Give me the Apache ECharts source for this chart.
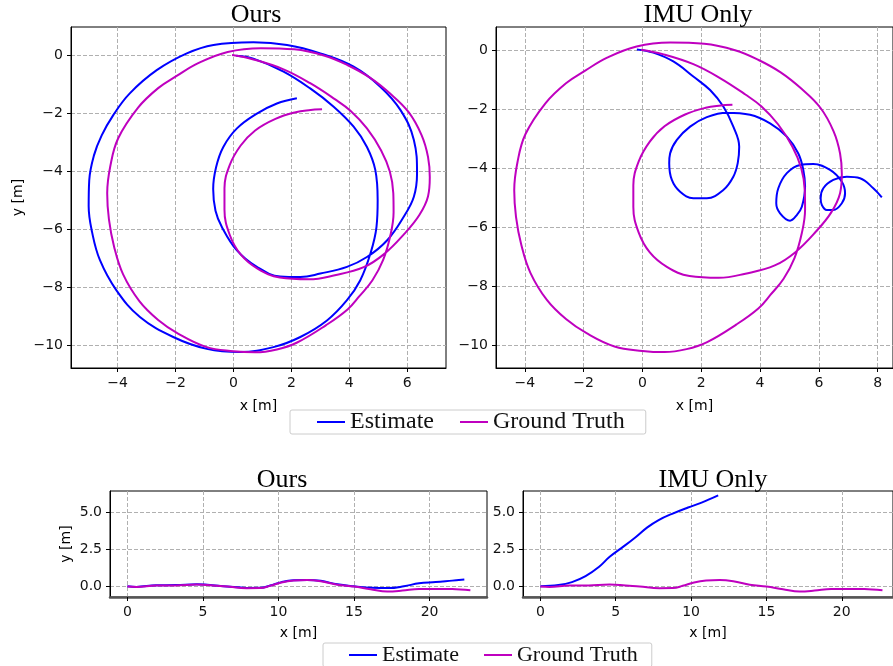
<!DOCTYPE html>
<html>
<head>
<meta charset="utf-8">
<script src="https://cdn.jsdelivr.net/npm/echarts@6/dist/echarts.min.js"></script>
<style>
  html, body { margin: 0; padding: 0; background: #fff; }
  #chart { width: 893px; height: 666px; }
</style>
</head>
<body>
<div id="chart"></div>
<script>
const seriesNames = ["Estimate", "Ground Truth"];
const panelTitles = ["Ours", "IMU Only"];

// x-y trajectory (top panels), metres
const gtPath = [
  [-0.05, 0.02], [0.69, -0.13], [1.73, -0.47], [2.65, -0.95], [3.5, -1.5], [4.04, -1.9],
  [4.61, -2.51], [5.1, -3.27], [5.4, -4.0], [5.52, -4.75], [5.53, -5.4], [5.42, -6.2],
  [5.17, -7.05], [4.8, -7.75], [4.35, -8.3], [3.95, -8.75], [3.2, -9.3], [2.2, -9.9],
  [1.5, -10.14], [0.75, -10.24], [0.0, -10.2], [-0.95, -10.05], [-1.9, -9.6],
  [-2.6, -9.12], [-3.25, -8.47], [-3.81, -7.55], [-4.12, -6.6], [-4.3, -5.65],
  [-4.36, -4.75], [-4.25, -3.8], [-3.98, -2.85], [-3.3, -1.8], [-2.6, -1.12],
  [-1.96, -0.7], [-1.2, -0.25], [-0.2, 0.13], [0.95, 0.26], [2.1, 0.22], [3.15, 0.0],
  [3.95, -0.33], [4.7, -0.75], [5.4, -1.3], [6.05, -1.95], [6.5, -2.75], [6.72, -3.5],
  [6.78, -4.2], [6.72, -4.85], [6.42, -5.5], [5.9, -6.15], [5.2, -6.85], [4.5, -7.3],
  [3.5, -7.58], [2.6, -7.72], [1.6, -7.66], [0.83, -7.35], [0.25, -6.86], [-0.13, -6.18],
  [-0.31, -5.32], [-0.31, -4.58], [-0.13, -3.78], [0.25, -3.1], [0.75, -2.58],
  [1.45, -2.18], [2.15, -1.95], [2.6, -1.88], [3.06, -1.85]
];
const oursPath = [
  [0.1, 0.0], [0.69, -0.1], [1.73, -0.55], [2.65, -1.13], [3.46, -1.76], [4.15, -2.45],
  [4.61, -3.15], [4.9, -3.95], [4.98, -4.99], [4.94, -5.91], [4.73, -6.83], [4.38, -7.75],
  [3.92, -8.44], [3.23, -9.14], [2.31, -9.71], [1.38, -10.06], [0.23, -10.23],
  [-0.92, -10.12], [-2.08, -9.71], [-3.23, -9.02], [-4.04, -8.1], [-4.61, -7.06],
  [-4.88, -6.1], [-5.0, -5.2], [-4.98, -4.3], [-4.82, -3.45], [-4.55, -2.75],
  [-4.15, -2.05], [-3.58, -1.3], [-2.65, -0.5], [-1.61, 0.08], [-0.69, 0.37], [0.69, 0.46],
  [1.85, 0.37], [3.0, 0.08], [4.15, -0.38], [5.07, -1.07], [5.77, -1.88], [6.23, -2.91],
  [6.34, -4.07], [6.23, -4.87], [5.88, -5.56], [5.31, -6.37], [4.61, -6.95], [3.92, -7.29],
  [3.0, -7.52], [2.31, -7.64], [1.61, -7.62], [0.81, -7.29], [0.12, -6.72], [-0.4, -5.91],
  [-0.62, -5.35], [-0.7, -4.6], [-0.6, -3.85], [-0.35, -3.15], [0.12, -2.51], [0.81, -2.0],
  [1.5, -1.65], [2.19, -1.47]
];
const imuPath = [
  [-0.19, 0.03], [0.37, -0.08], [1.05, -0.38], [1.73, -0.89], [2.3, -1.35], [2.75, -1.91],
  [3.09, -2.59], [3.29, -3.27], [3.24, -3.83], [3.09, -4.29], [2.75, -4.74], [2.19, -5.02],
  [1.73, -5.02], [1.28, -4.8], [1.0, -4.4], [0.91, -3.83], [0.94, -3.5], [1.17, -3.04],
  [1.62, -2.59], [2.19, -2.27], [2.87, -2.12], [3.66, -2.19], [4.34, -2.48], [4.91, -2.93],
  [5.3, -3.5], [5.47, -4.06], [5.53, -4.63], [5.42, -5.31], [5.25, -5.59], [5.02, -5.78],
  [4.68, -5.53], [4.55, -5.19], [4.62, -4.68], [4.91, -4.17], [5.36, -3.89], [5.81, -3.86],
  [6.38, -4.06], [6.78, -4.46], [6.89, -4.85], [6.78, -5.19], [6.49, -5.42], [6.27, -5.42],
  [6.1, -5.25], [6.06, -5.02], [6.15, -4.68], [6.49, -4.4], [6.95, -4.29], [7.4, -4.34],
  [7.85, -4.68], [8.14, -4.99]
];

// straight corridor (bottom panels), metres
const gtLine = [
  [0, 0], [0.6, -0.03], [1.9, 0.07], [3.2, 0.08], [4.6, 0.14], [5.3, 0.11], [6.6, 0.0],
  [7.9, -0.11], [8.8, -0.1], [9.45, 0.05], [10.2, 0.28], [11.0, 0.41], [11.9, 0.44],
  [12.8, 0.36], [13.9, 0.13], [15.0, 0.0], [16.1, -0.18], [17.2, -0.33], [18.2, -0.27],
  [19.3, -0.16], [20.4, -0.16], [21.5, -0.17], [22.7, -0.25]
];
const oursLine = [
  [0, 0.02], [0.6, -0.02], [1.9, 0.09], [3.2, 0.1], [4.6, 0.16], [5.3, 0.12], [6.6, 0.01],
  [7.9, -0.09], [8.8, -0.08], [9.45, 0.07], [10.2, 0.3], [11.0, 0.43], [11.9, 0.45],
  [12.8, 0.39], [13.9, 0.15], [15.0, 0.02], [16.2, -0.08], [17.3, -0.1], [18.3, 0.02],
  [19.3, 0.22], [20.4, 0.3], [21.5, 0.4], [22.3, 0.47]
];
const imuLine = [
  [0, 0.02], [1.2, 0.1], [2.1, 0.3], [3.0, 0.7], [3.9, 1.33], [4.6, 2.0], [5.4, 2.6],
  [6.3, 3.3], [7.1, 3.98], [7.85, 4.47], [8.7, 4.87], [9.8, 5.31], [10.7, 5.64], [11.8, 6.13]
];

const xTicksOurs = [-4, -2, 0, 2, 4, 6];
const xTicksImu = [-4, -2, 0, 2, 4, 6, 8];
const yTicksTop = [-10, -8, -6, -4, -2, 0];
const xTicksBottom = [0, 5, 10, 15, 20];
const yTicksBottom = [0, 2.5, 5];

const fmtInt = v => (v < 0 ? "\u2212" + Math.abs(v) : String(v));
const fmtOne = v => (v < 0 ? "\u2212" + Math.abs(v).toFixed(1) : v.toFixed(1));

function axis(gridIndex, min, max, ticks, fmt, extra) {
  return Object.assign({
    type: "value",
    gridIndex: gridIndex,
    min: min,
    max: max,
    axisLine: { show: true, onZero: false, lineStyle: { color: "#000", width: 1 } },
    axisTick: { show: true, inside: false, length: 4, customValues: ticks, lineStyle: { color: "#000" } },
    axisLabel: { customValues: ticks, formatter: fmt, color: "#111", fontFamily: "DejaVu Sans", fontSize: 14, margin: 8 },
    splitLine: { show: true, lineStyle: { color: "#b0b0b0", type: [4, 2], width: 1 } },
    nameTextStyle: { fontFamily: "DejaVu Sans", fontSize: 14, color: "#000" }
  }, extra || {});
}

const thickBottom = { axisLine: { show: true, onZero: false, lineStyle: { color: "#555", width: 2.5 } } };

function line(name, data, idx, color) {
  return {
    name: name, type: "line", data: data,
    xAxisIndex: idx, yAxisIndex: idx,
    showSymbol: false, symbol: "none", smooth: 0.4,
    lineStyle: { color: color, width: 2 }, itemStyle: { color: color },
    emphasis: { disabled: true }
  };
}

const blue = "#0000ff";
const magenta = "#bf00bf";

function legend(left, top, fontSize, padding, gap) {
  return {
    left: left, top: top, orient: "horizontal", data: seriesNames,
    icon: "rect", itemWidth: 28, itemHeight: 2, itemGap: gap,
    padding: padding, selectedMode: false,
    backgroundColor: "#fff", borderColor: "#cccccc", borderWidth: 1, borderRadius: 2,
    textStyle: { fontFamily: "Liberation Serif", fontSize: fontSize, color: "#111", lineHeight: fontSize }
  };
}

function titleText(text, x, y) {
  return {
    type: "text", x: x, y: y,
    style: { text: text, fontFamily: "Liberation Serif", fontSize: 26, fill: "#000", align: "center", verticalAlign: "middle" }
  };
}

let option = {
  animation: false,
  backgroundColor: "#fff",
  grid: [
    { left: 71, top: 27, width: 375, height: 341, show: true, borderColor: "#000", borderWidth: 1 },
    { left: 496, top: 27, width: 397, height: 341, show: true, borderColor: "#000", borderWidth: 1 },
    { left: 110, top: 491, width: 377, height: 106, show: true, borderColor: "#000", borderWidth: 1 },
    { left: 523, top: 491, width: 370, height: 106, show: true, borderColor: "#000", borderWidth: 1 }
  ],
  xAxis: [
    axis(0, -5.61, 7.34, xTicksOurs, fmtInt, { name: "x [m]", nameLocation: "middle", nameGap: 31 }),
    axis(1, -4.98, 8.52, xTicksImu, fmtInt, { name: "x [m]", nameLocation: "middle", nameGap: 31 }),
    Object.assign(axis(2, -1.15, 23.8, xTicksBottom, fmtInt, { name: "x [m]", nameLocation: "middle", nameGap: 29 }), thickBottom),
    Object.assign(axis(3, -1.15, 23.4, xTicksBottom, fmtInt, { name: "x [m]", nameLocation: "middle", nameGap: 29 }), thickBottom)
  ],
  yAxis: [
    axis(0, -10.78, 0.99, yTicksTop, fmtInt, { name: "y [m]", nameLocation: "middle", nameGap: 46 }),
    axis(1, -10.78, 0.79, yTicksTop, fmtInt),
    axis(2, -0.7, 6.42, yTicksBottom, fmtOne, { name: "y [m]", nameLocation: "middle", nameGap: 37 }),
    axis(3, -0.7, 6.42, yTicksBottom, fmtOne)
  ],
  legend: [
    legend(290, 410, 24, [0, 21, 0, 27], 26),
    legend(323, 643, 22, [1, 14, 1, 26], 25)
  ],
  series: [
    line(seriesNames[0], oursPath, 0, blue),
    line(seriesNames[1], gtPath, 0, magenta),
    line(seriesNames[0], imuPath, 1, blue),
    line(seriesNames[1], gtPath, 1, magenta),
    line(seriesNames[0], oursLine, 2, blue),
    line(seriesNames[1], gtLine, 2, magenta),
    line(seriesNames[0], imuLine, 3, blue),
    line(seriesNames[1], gtLine, 3, magenta)
  ],
  graphic: [
    titleText(panelTitles[0], 256, 15),
    titleText(panelTitles[1], 698, 15),
    titleText(panelTitles[0], 282, 480),
    titleText(panelTitles[1], 713, 480)
  ]
};

let myChart = echarts.init(document.getElementById("chart"));
myChart.setOption(option);
window.addEventListener("resize", () => myChart.resize());
</script>
</body>
</html>
